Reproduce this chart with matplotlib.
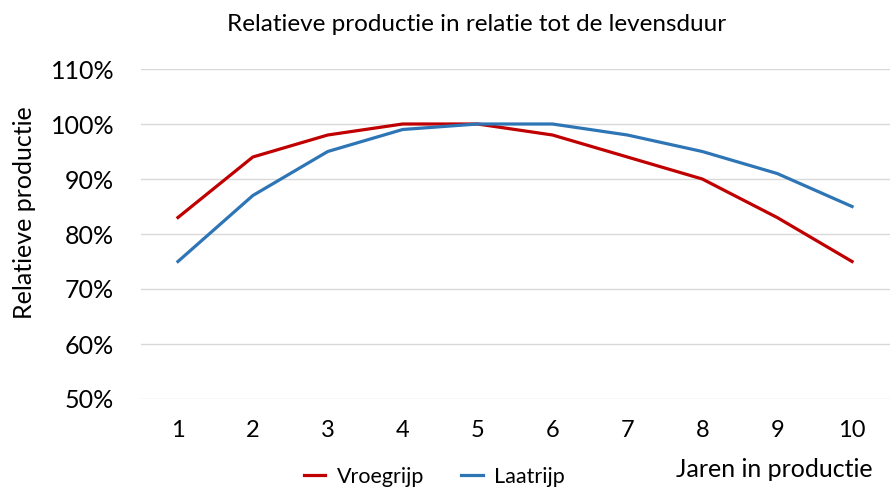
import matplotlib.pyplot as plt

jaren = [1, 2, 3, 4, 5, 6, 7, 8, 9, 10]
vroegrijp = [83, 94, 98, 100, 100, 98, 94, 90, 83, 75]
laatrijp = [75, 87, 95, 99, 100, 100, 98, 95, 91, 85]
y_ticks = [50, 60, 70, 80, 90, 100, 110]

plt.rcParams['font.family'] = ['Lato', 'DejaVu Sans']

W, H = 894, 498
fig = plt.figure(figsize=(W / 100, H / 100), dpi=100)
ax = fig.add_axes([140.5 / W, 1 - 399 / H, 749 / W, 330 / H])

ax.plot(jaren, vroegrijp, color='#C00000', lw=2.3, label='Vroegrijp')
ax.plot(jaren, laatrijp, color='#2E75B6', lw=2.3, label='Laatrijp')

ax.set_xlim(0.5, 10.5)
ax.set_ylim(50, 110)
ax.set_yticks(y_ticks)
ax.set_yticklabels([f"{v}%" for v in y_ticks], fontsize=18)
ax.set_xticks(jaren)
ax.set_xticklabels([str(j) for j in jaren], fontsize=17)
ax.tick_params(length=0)
ax.tick_params(axis='x', pad=15)
ax.tick_params(axis='y', pad=19)
ax.grid(axis='y', color='#D9D9D9', lw=1)
ax.set_axisbelow(True)
for s in ax.spines.values():
    s.set_visible(False)

# titles / labels placed in pixels of the reference
fig.text(477 / W, 1 - 31 / H, 'Relatieve productie in relatie tot de levensduur',
         ha='center', va='baseline', fontsize=17.5)
fig.text(25 / W, 1 - 213 / H, 'Relatieve productie', rotation=90,
         ha='center', va='center', fontsize=18)
fig.text(873 / W, 1 - 477 / H, 'Jaren in productie', ha='right', va='baseline', fontsize=18)
fig.legend(loc='center', bbox_to_anchor=(434.5 / W, 1 - 477 / H), ncol=2, frameon=False,
           fontsize=15.5, handlelength=1.0, handletextpad=0.55, columnspacing=1.7)

fig.savefig('out.png', dpi=100)
